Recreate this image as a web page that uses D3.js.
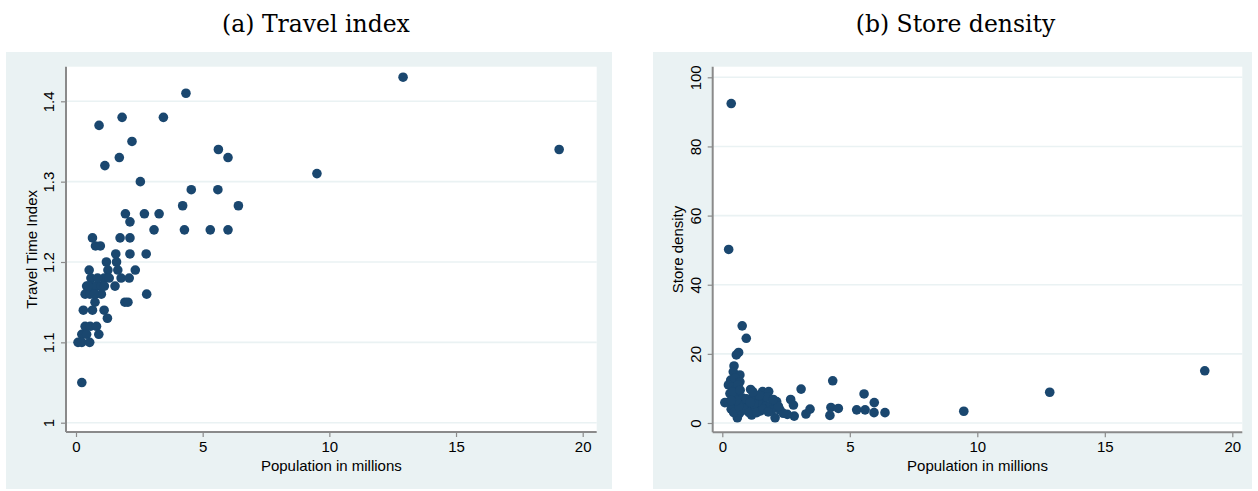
<!DOCTYPE html>
<html>
<head>
<meta charset="utf-8">
<script src="https://cdn.jsdelivr.net/npm/d3@7"></script>
<style>
  body { margin: 0; background: #fff; }
  svg { display: block; }
  .tick text { font-family: "Liberation Sans", Arial, sans-serif; font-size: 15px; fill: #000; }
  .axis-title { font-family: "Liberation Sans", Arial, sans-serif; font-size: 15px; fill: #000; }
  .panel-title { font-family: "DejaVu Serif", "Liberation Serif", serif; font-size: 23.5px; fill: #000; }
</style>
</head>
<body>
<div id="chart"></div>
<script>
// population (millions) and travel time index, panel (a)
var travelPop = [12.91, 4.34, 1.82, 3.45, 0.91, 2.21, 5.62, 19.07, 1.71, 6.0, 1.14, 9.51,
  2.54, 4.55, 5.6, 4.21, 6.41, 1.95, 2.70, 3.28, 2.13, 3.08, 4.28, 5.3, 6.0,
  0.65, 1.74, 2.13, 0.77, 0.96, 1.57, 2.13, 2.77, 1.20, 1.60,
  0.52, 1.26, 1.65, 2.34, 0.59, 1.11, 1.31, 1.78, 2.10,
  0.42, 0.60, 0.80, 1.0, 1.12, 1.54, 0.36, 0.55, 0.76, 1.0, 2.79,
  0.75, 1.93, 2.05, 0.29, 0.65, 1.11, 1.24, 0.36, 0.56, 0.81,
  0.23, 0.42, 0.90, 0.08, 0.23, 0.54, 0.23, 0.70, 0.48, 0.85];
var travelIndex = [1.43, 1.41, 1.38, 1.38, 1.37, 1.35, 1.34, 1.34, 1.33, 1.33, 1.32, 1.31,
  1.30, 1.29, 1.29, 1.27, 1.27, 1.26, 1.26, 1.26, 1.25, 1.24, 1.24, 1.24, 1.24,
  1.23, 1.23, 1.23, 1.22, 1.22, 1.21, 1.21, 1.21, 1.20, 1.20,
  1.19, 1.19, 1.19, 1.19, 1.18, 1.18, 1.18, 1.18, 1.18,
  1.17, 1.17, 1.17, 1.17, 1.17, 1.17, 1.16, 1.16, 1.16, 1.16, 1.16,
  1.15, 1.15, 1.15, 1.14, 1.14, 1.14, 1.13, 1.12, 1.12, 1.12,
  1.11, 1.11, 1.11, 1.10, 1.10, 1.10, 1.05, 1.16, 1.17, 1.18];

// population (millions) and store density, panel (b)
var storePop = [0.35, 0.25, 18.92, 12.84, 9.47,
  0.78, 0.94, 0.55, 0.64, 0.46, 0.43, 0.69, 0.33, 0.50, 0.24, 0.69, 0.40, 0.55, 0.62,
  1.11, 1.58, 1.82, 3.09, 4.33, 5.56, 5.96, 0.10, 0.25,
  2.13, 2.68, 2.79, 0.67, 0.59, 1.15, 2.07, 2.82, 2.55, 3.28, 3.44, 4.22, 4.26, 4.55,
  5.27, 5.60, 5.95, 6.38, 1.22, 1.61, 2.26, 2.39,
  0.30, 0.45, 0.60, 0.70, 0.80, 0.90, 1.00, 0.50, 0.35, 0.45, 0.75, 0.85, 1.05, 1.30,
  1.40, 1.50, 1.70, 1.90, 1.75, 1.95, 2.20, 1.25, 1.35, 0.95, 1.10, 0.65, 0.55, 0.40,
  1.60, 1.80, 2.00, 1.45, 0.70, 1.20, 0.35];
var storeDensity = [92.4, 50.2, 15.1, 8.9, 3.4,
  28.1, 24.5, 19.7, 20.4, 16.5, 14.8, 13.9, 12.4, 13.0, 11.0, 11.9, 10.5, 10.0, 11.0,
  9.7, 9.1, 9.1, 9.8, 12.2, 8.4, 5.9, 5.9, 6.0,
  6.2, 6.8, 5.2, 2.8, 1.5, 2.3, 1.5, 2.0, 2.5, 2.6, 4.0, 2.2, 4.5, 4.2,
  3.8, 3.8, 3.0, 3.0, 7.6, 6.6, 3.8, 2.8,
  8.5, 7.5, 8.0, 6.5, 7.2, 5.5, 4.5, 5.0, 4.0, 3.0, 3.5, 4.2, 3.0, 4.5,
  5.8, 3.5, 4.8, 5.2, 7.5, 3.8, 4.8, 5.5, 3.0, 7.0, 6.0, 4.8, 6.5, 9.0,
  4.0, 3.2, 6.8, 8.0, 9.5, 9.0, 6.5];

var popTicks = [0, 5, 10, 15, 20];
var travelTicks = [1, 1.1, 1.2, 1.3, 1.4];
var travelTickLabels = ["1", "1.1", "1.2", "1.3", "1.4"];
var densityTicks = [0, 20, 40, 60, 80, 100];
var densityTickLabels = ["0", "20", "40", "60", "80", "100"];

var W = 1258, H = 491;
var bgColor = "#eaf2f3";
var dotColor = "#1a476f";
var axisColor = "#8a8a8a";

var svg = d3.select("#chart").append("svg")
  .attr("width", W)
  .attr("height", H);

function drawPanel(p) {
  var g = svg.append("g");

  // outer panel background
  g.append("rect")
    .attr("x", p.outer[0]).attr("y", p.outer[1])
    .attr("width", p.outer[2] - p.outer[0]).attr("height", p.outer[3] - p.outer[1])
    .attr("fill", bgColor);

  // plot region
  g.append("rect")
    .attr("x", p.plot[0]).attr("y", p.plot[1])
    .attr("width", p.plot[2] - p.plot[0]).attr("height", p.plot[3] - p.plot[1])
    .attr("fill", "#fff");

  var x = d3.scaleLinear().domain([0, 20]).range(p.xRange);
  var y = d3.scaleLinear().domain(p.yDomain).range(p.yRange);

  // horizontal gridlines
  g.append("g")
    .selectAll("line")
    .data(p.yTicks)
    .enter()
    .append("line")
    .attr("x1", p.plot[0]).attr("x2", p.plot[2])
    .attr("y1", (d) => y(d)).attr("y2", (d) => y(d))
    .attr("stroke", bgColor)
    .attr("stroke-width", 1.6);

  // points
  var pts = d3.zip(p.xs, p.ys);
  g.append("g")
    .selectAll("circle")
    .data(pts)
    .enter()
    .append("circle")
    .attr("cx", (d) => x(d[0]))
    .attr("cy", (d) => y(d[1]))
    .attr("r", 4.8)
    .attr("fill", dotColor);

  // x axis
  var xAxis = g.append("g")
    .attr("transform", "translate(0," + p.plot[3] + ")")
    .call(d3.axisBottom(x).tickValues(popTicks).tickSize(5).tickSizeOuter(0).tickPadding(4));
  xAxis.select(".domain")
    .attr("d", "M" + p.plot[0] + ",0H" + p.plot[2])
    .attr("stroke", axisColor).attr("stroke-width", 2);
  xAxis.selectAll(".tick line").attr("stroke", axisColor).attr("stroke-width", 1.2);
  xAxis.selectAll(".tick text").attr("font-family", null).attr("font-size", null);

  // y axis
  var yAxis = g.append("g")
    .attr("transform", "translate(" + p.plot[0] + ",0)")
    .call(d3.axisLeft(y).tickValues(p.yTicks).tickSize(5).tickSizeOuter(0)
      .tickFormat((d, i) => p.yLabels[i]));
  yAxis.select(".domain")
    .attr("d", "M0," + p.plot[1] + "V" + p.plot[3])
    .attr("stroke", axisColor).attr("stroke-width", 2);
  yAxis.selectAll(".tick line").attr("stroke", axisColor).attr("stroke-width", 1.2);
  yAxis.selectAll(".tick text")
    .attr("font-family", null).attr("font-size", null)
    .attr("x", null).attr("dy", null)
    .attr("text-anchor", "middle")
    .attr("transform", "translate(" + (p.yLabelX - p.plot[0]) + ",0) rotate(-90)");

  // axis titles
  g.append("text")
    .attr("class", "axis-title")
    .attr("text-anchor", "middle")
    .attr("x", (p.plot[0] + p.plot[2]) / 2)
    .attr("y", 471)
    .text("Population in millions");

  g.append("text")
    .attr("class", "axis-title")
    .attr("text-anchor", "middle")
    .attr("transform", "translate(" + p.yTitleX + "," + (p.plot[1] + p.plot[3]) / 2 + ") rotate(-90)")
    .text(p.yTitle);

  // panel title
  g.append("text")
    .attr("class", "panel-title")
    .attr("text-anchor", "middle")
    .attr("x", p.titleX)
    .attr("y", 32)
    .text(p.title);
}

drawPanel({
  outer: [6, 52, 612, 489],
  plot: [66, 66.7, 596.7, 432],
  xRange: [76, 582.7],
  yDomain: [1, 1.4],
  yRange: [422.7, 101.3],
  yTicks: travelTicks,
  yLabels: travelTickLabels,
  yLabelX: 54,
  yTitleX: 37,
  yTitle: "Travel Time Index",
  xs: travelPop,
  ys: travelIndex,
  titleX: 316,
  title: "(a) Travel index"
});

drawPanel({
  outer: [653, 52, 1252, 489],
  plot: [712.7, 66.7, 1242.3, 432.3],
  xRange: [722.3, 1232.3],
  yDomain: [0, 100],
  yRange: [423, 77.3],
  yTicks: densityTicks,
  yLabels: densityTickLabels,
  yLabelX: 700.5,
  yTitleX: 683,
  yTitle: "Store density",
  xs: storePop,
  ys: storeDensity,
  titleX: 955.5,
  title: "(b) Store density"
});
</script>
</body>
</html>
